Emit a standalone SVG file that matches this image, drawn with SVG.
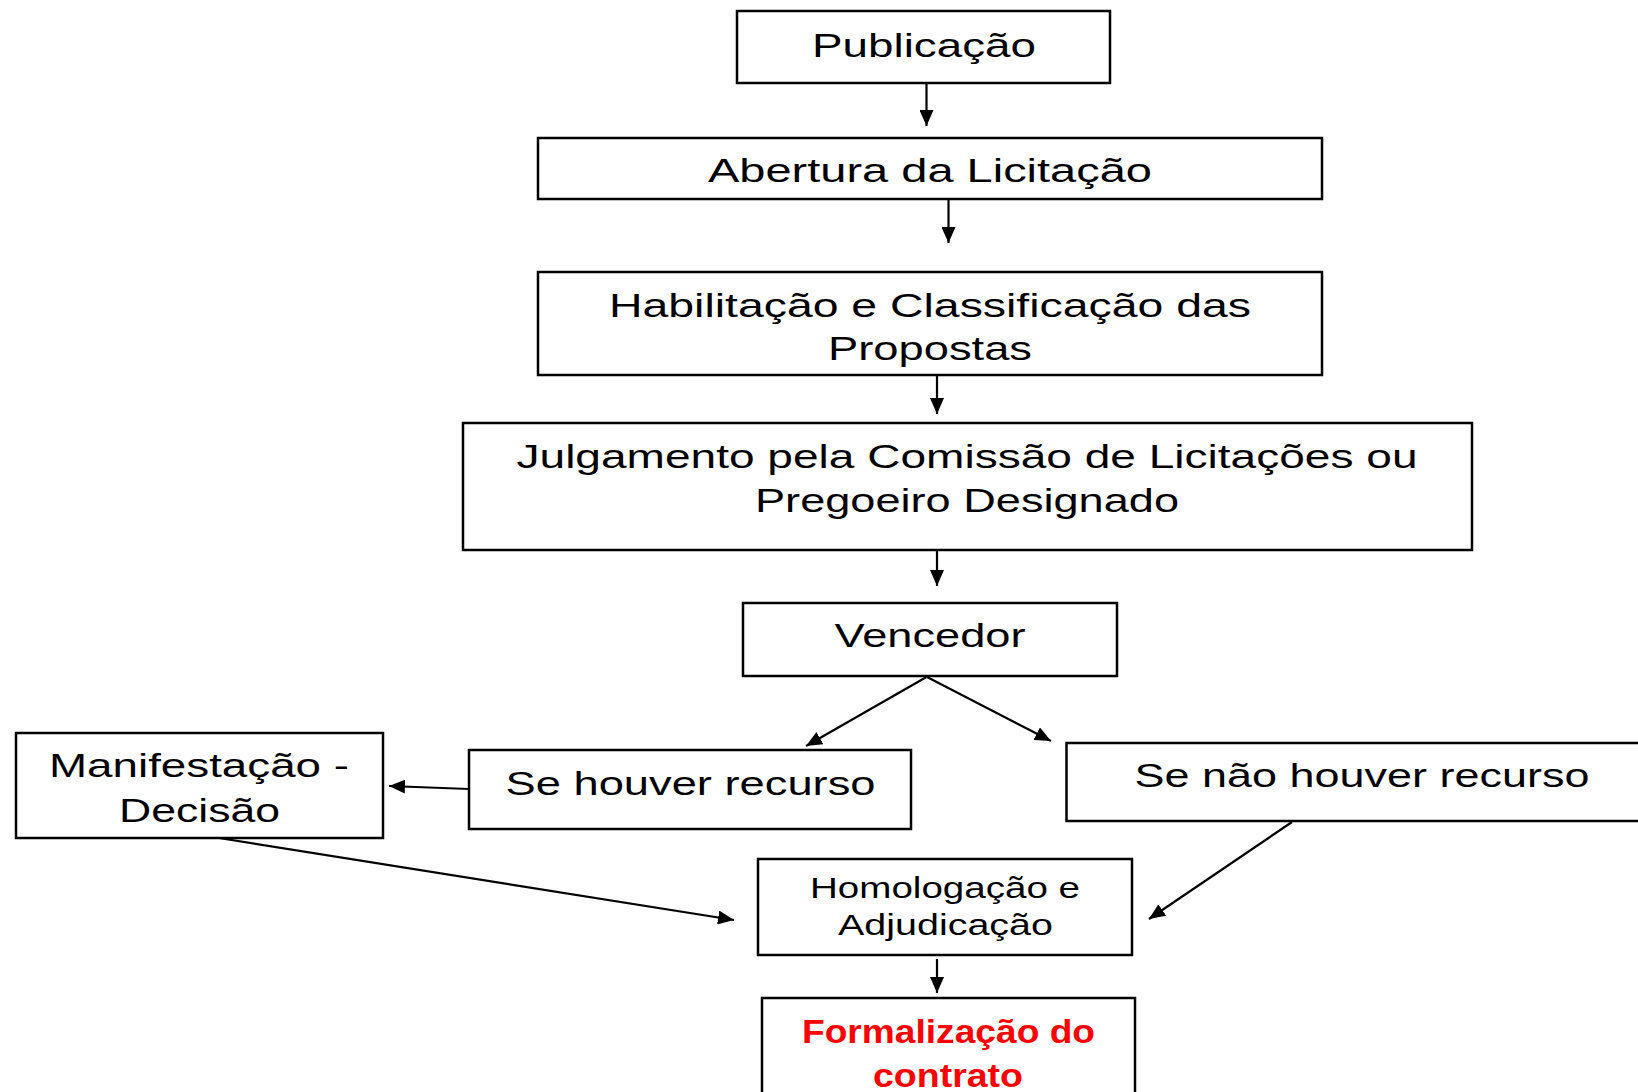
<svg xmlns="http://www.w3.org/2000/svg" width="1638" height="1092" viewBox="0 0 1638 1092">
<defs>
<marker id="ah" markerUnits="userSpaceOnUse" markerWidth="16" markerHeight="14" viewBox="0 0 16 14" refX="16" refY="7" orient="auto">
<path d="M0,0 L16,7 L0,14 Z" fill="#000"/>
</marker>
<style>
rect{fill:#fff;stroke:#000;stroke-width:2.5}
text{font-family:"Liberation Sans",Arial,sans-serif;font-size:34px;fill:#000;text-anchor:middle}
.sm{font-size:29px}
.red{fill:#ff0000;font-weight:bold}
#connectors line{stroke:#000;stroke-width:2.2;marker-end:url(#ah)}
</style>
</defs>
<rect x="0" y="0" width="1638" height="1092" style="fill:#fff;stroke:none"/>
<g id="connectors">
<line x1="926.5" y1="83" x2="926.5" y2="126"/>
<line x1="948.5" y1="199" x2="948.5" y2="243"/>
<line x1="937" y1="376" x2="937" y2="414"/>
<line x1="937" y1="551" x2="937" y2="586"/>
<line x1="926.5" y1="677" x2="806" y2="746"/>
<line x1="927" y1="677" x2="1051" y2="741"/>
<line x1="469" y1="789" x2="389" y2="786"/>
<line x1="219" y1="838" x2="734" y2="920"/>
<line x1="1292" y1="822" x2="1149" y2="919"/>
<line x1="937" y1="959" x2="937" y2="993"/>
</g>
<g id="n-publicacao">
<rect x="737" y="11" width="373" height="72"/>
<text x="924" y="57" textLength="224" lengthAdjust="spacingAndGlyphs">Publicação</text>
</g>
<g id="n-abertura">
<rect x="538" y="138" width="784" height="61"/>
<text x="930" y="182" textLength="444" lengthAdjust="spacingAndGlyphs">Abertura da Licitação</text>
</g>
<g id="n-habilitacao">
<rect x="538" y="272" width="784" height="103"/>
<text x="930" y="317" textLength="642" lengthAdjust="spacingAndGlyphs">Habilitação e Classificação das</text>
<text x="930" y="360" textLength="204" lengthAdjust="spacingAndGlyphs">Propostas</text>
</g>
<g id="n-julgamento">
<rect x="463" y="423" width="1009" height="127"/>
<text x="967" y="468" textLength="901" lengthAdjust="spacingAndGlyphs">Julgamento pela Comissão de Licitações ou</text>
<text x="967" y="512" textLength="424" lengthAdjust="spacingAndGlyphs">Pregoeiro Designado</text>
</g>
<g id="n-vencedor">
<rect x="743" y="603" width="374" height="73"/>
<text x="930" y="647" textLength="191" lengthAdjust="spacingAndGlyphs">Vencedor</text>
</g>
<g id="n-se-houver">
<rect x="469" y="750" width="442" height="79"/>
<text x="690.5" y="795" textLength="370" lengthAdjust="spacingAndGlyphs">Se houver recurso</text>
</g>
<g id="n-manifestacao">
<rect x="16" y="733" width="367" height="105"/>
<text x="199" y="777" textLength="300" lengthAdjust="spacingAndGlyphs">Manifestação -</text>
<text x="199.5" y="822" textLength="161" lengthAdjust="spacingAndGlyphs">Decisão</text>
</g>
<g id="n-se-nao-houver">
<rect x="1066.5" y="743" width="600" height="78"/>
<text x="1362" y="787" textLength="455" lengthAdjust="spacingAndGlyphs">Se não houver recurso</text>
</g>
<g id="n-homologacao">
<rect x="758" y="859" width="374" height="96"/>
<text x="945" y="898" class="sm" textLength="270" lengthAdjust="spacingAndGlyphs">Homologação e</text>
<text x="945.5" y="935" class="sm" textLength="215" lengthAdjust="spacingAndGlyphs">Adjudicação</text>
</g>
<g id="n-formalizacao">
<rect x="762" y="998" width="373" height="120"/>
<text x="948.5" y="1043" class="red" textLength="293" lengthAdjust="spacingAndGlyphs">Formalização do</text>
<text x="948" y="1087" class="red" textLength="150" lengthAdjust="spacingAndGlyphs">contrato</text>
</g>
</svg>
